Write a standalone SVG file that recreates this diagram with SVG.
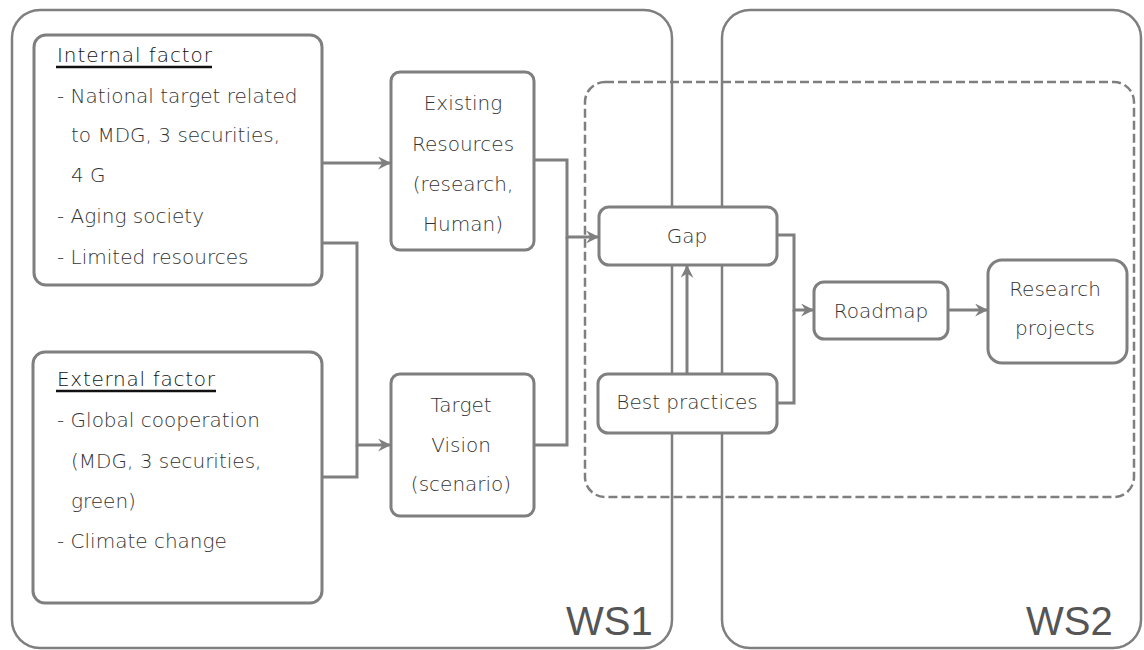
<svg xmlns="http://www.w3.org/2000/svg" width="1144" height="650" viewBox="0 0 1144 650">
<style>
.ws{fill:none;stroke:#7f7f7f;stroke-width:2.5}
.dash{fill:none;stroke:#7f7f7f;stroke-width:2.5;stroke-dasharray:9 4}
.box{fill:#fff;stroke:#7f7f7f;stroke-width:3}
.con{fill:none;stroke:#7f7f7f;stroke-width:3}
.t{font-family:"DejaVu Sans",sans-serif;font-size:20px;font-weight:200;fill:#333}
.c{text-anchor:middle}
.h{fill:#111}
.ul{stroke:#111;stroke-width:2.5}
.lbl{font-family:"Liberation Sans",Arial,sans-serif;font-size:40px;fill:#555}
</style>
<defs>
<marker id="arr" viewBox="0 0 12 12" refX="11" refY="6" markerWidth="13" markerHeight="13" markerUnits="userSpaceOnUse" orient="auto">
<path d="M0,0 L12,6 L0,12 L4,6 z" fill="#7f7f7f"/>
</marker>
</defs>
<g id="ws1">
<rect class="ws" x="12" y="10" width="660" height="638" rx="28"/>
<text class="lbl" x="566" y="635">WS1</text>
</g>
<g id="ws2">
<rect class="ws" x="722" y="10" width="419" height="638" rx="28"/>
<text class="lbl" x="1026" y="635">WS2</text>
</g>
<g id="gap-area">
<rect class="dash" x="585" y="82" width="549" height="415" rx="20"/>
</g>
<g id="connectors">
<path class="con" d="M322,163 H390" marker-end="url(#arr)"/>
<path class="con" d="M322,243 H357 V445 H390" marker-end="url(#arr)"/>
<path class="con" d="M322,477 H357 V445"/>
<path class="con" d="M534,160 H567 V237 H598" marker-end="url(#arr)"/>
<path class="con" d="M534,445 H567 V237"/>
<path class="con" d="M687,374 V266" stroke-width="4" marker-end="url(#arr)"/>
<path class="con" d="M777,235 H794 V310 H813" marker-end="url(#arr)"/>
<path class="con" d="M777,403 H794 V310"/>
<path class="con" d="M948,310 H987" marker-end="url(#arr)"/>
</g>
<g id="internal">
<rect class="box" x="34" y="35" width="288" height="250" rx="12"/>
<text class="t h" x="57" y="62" textLength="155" lengthAdjust="spacing">Internal factor</text>
<line class="ul" x1="56" y1="67" x2="212" y2="67"/>
<text class="t" x="57" y="103">- National target related</text>
<text class="t" x="71" y="142">to MDG, 3 securities,</text>
<text class="t" x="71" y="182">4 G</text>
<text class="t" x="57" y="223">- Aging society</text>
<text class="t" x="57" y="264">- Limited resources</text>
</g>
<g id="external">
<rect class="box" x="33" y="352" width="289" height="251" rx="12"/>
<text class="t h" x="57" y="386" textLength="158" lengthAdjust="spacing">External factor</text>
<line class="ul" x1="56" y1="391" x2="216" y2="391"/>
<text class="t" x="57" y="427">- Global cooperation</text>
<text class="t" x="71" y="468">(MDG, 3 securities,</text>
<text class="t" x="71" y="508">green)</text>
<text class="t" x="57" y="548">- Climate change</text>
</g>
<g id="existing">
<rect class="box" x="391" y="72" width="143" height="178" rx="9"/>
<text class="t c" x="463" y="110">Existing</text>
<text class="t c" x="463" y="151">Resources</text>
<text class="t c" x="463" y="191">(research,</text>
<text class="t c" x="463" y="231">Human)</text>
</g>
<g id="target">
<rect class="box" x="391" y="374" width="143" height="142" rx="9"/>
<text class="t c" x="461" y="412">Target</text>
<text class="t c" x="461" y="452">Vision</text>
<text class="t c" x="461" y="491">(scenario)</text>
</g>
<g id="gap">
<rect class="box" x="599" y="207" width="178" height="58" rx="10"/>
<text class="t c" x="687" y="243">Gap</text>
</g>
<g id="best">
<rect class="box" x="598" y="374" width="179" height="59" rx="10"/>
<text class="t c" x="687" y="409">Best practices</text>
</g>
<g id="roadmap">
<rect class="box" x="814" y="282" width="134" height="57" rx="10"/>
<text class="t c" x="881" y="318">Roadmap</text>
</g>
<g id="research">
<rect class="box" x="988" y="260" width="139" height="103" rx="14"/>
<text class="t c" x="1055" y="296">Research</text>
<text class="t c" x="1055" y="335">projects</text>
</g>
</svg>
